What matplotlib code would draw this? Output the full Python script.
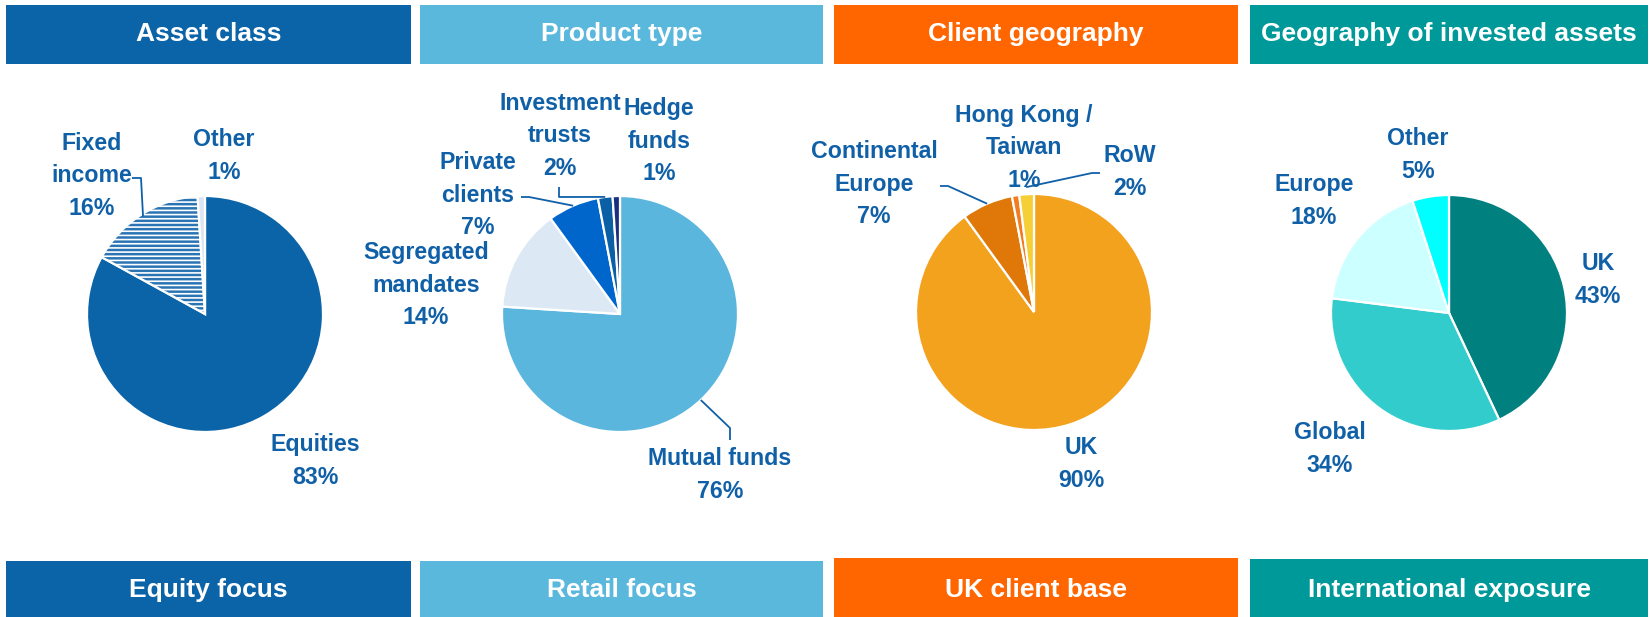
import numpy as np
import matplotlib
matplotlib.use("Agg")
import matplotlib.pyplot as plt
from matplotlib.patches import Rectangle

plt.rcParams['font.family'] = ['Liberation Sans', 'DejaVu Sans']
plt.rcParams['hatch.linewidth'] = 1.2

# ---------------- data ----------------
header_titles = ["Asset class", "Product type", "Client geography", "Geography of invested assets"]
footer_titles = ["Equity focus", "Retail focus", "UK client base", "International exposure"]
panel_colors = ["#0B64A8", "#5BB8DD", "#FF6600", "#009999"]

asset_labels = ["Equities", "Fixed\nincome", "Other"]
asset_values = [83, 16, 1]
asset_colors = ["#0B64A8", "#2A74B4", "#DCE6F2"]

product_labels = ["Mutual funds", "Segregated\nmandates", "Private\nclients", "Investment\ntrusts", "Hedge\nfunds"]
product_values = [76, 14, 7, 2, 1]
product_colors = ["#5BB6DD", "#DCE9F5", "#0066CC", "#0B5FA5", "#1B2F80"]

client_labels = ["UK", "Continental\nEurope", "Hong Kong /\nTaiwan", "RoW"]
client_values = [90, 7, 1, 2]
client_colors = ["#F3A21E", "#DF7808", "#F47C20", "#F5CF35"]

invest_labels = ["UK", "Global", "Europe", "Other"]
invest_values = [43, 34, 18, 5]
invest_colors = ["#00807F", "#33CCCC", "#CCFFFF", "#00FFFF"]

# ---------------- layout (pixel space) ----------------
W, H = 1652, 617
TXT = "#1060A8"
fig = plt.figure(figsize=(W / 100, H / 100), dpi=100)
ax = fig.add_axes([0, 0, 1, 1])

def Y(y):
    return H - y

header_x = [(6, 411), (420, 823), (834, 1238), (1250, 1648)]
header_y = (5, 64)
footer_y = [(561, 617), (561, 617), (558, 617), (559, 617)]

for i in range(4):
    x0, x1 = header_x[i]
    ax.add_patch(Rectangle((x0, Y(header_y[1])), x1 - x0, header_y[1] - header_y[0],
                           facecolor=panel_colors[i], edgecolor="none"))
    ax.text((x0 + x1) / 2, Y(34), header_titles[i], color="white", fontsize=19,
            fontweight="bold", ha="center", va="center")
    fy0, fy1 = footer_y[i]
    ax.add_patch(Rectangle((x0, Y(fy1)), x1 - x0, fy1 - fy0,
                           facecolor=panel_colors[i], edgecolor="none"))
    ax.text((x0 + x1) / 2, Y(590), footer_titles[i], color="white", fontsize=19,
            fontweight="bold", ha="center", va="center")

centers = [(205, 314), (620, 314), (1034, 312), (1449, 313)]
R = 118

pies = [
    (asset_values, asset_colors, asset_labels),
    (product_values, product_colors, product_labels),
    (client_values, client_colors, client_labels),
    (invest_values, invest_colors, invest_labels),
]

# label block centres (pixels)
label_pos = [
    [(315, 461), (92, 176), (224, 156)],
    [(720, 475), (426, 285), (478, 195), (560, 136), (659, 141)],
    [(1081, 464), (874, 184), (1024, 148), (1130, 172)],
    [(1598, 280), (1330, 449), (1314, 201), (1418, 155)],
]

all_wedges = []
for k, (vals, cols, labs) in enumerate(pies):
    cx, cy = centers[k]
    wedges, _ = ax.pie(vals, colors=cols, startangle=90, counterclock=False,
                       center=(cx, Y(cy)), radius=R,
                       wedgeprops=dict(edgecolor="white", linewidth=1.6))
    all_wedges.append(wedges)
    for j, lab in enumerate(labs):
        lx, ly = label_pos[k][j]
        ax.text(lx, Y(ly), f"{lab}\n{vals[j]}%", color=TXT, fontsize=16.7,
                fontweight="bold", ha="center", va="center", linespacing=1.55)

all_wedges[0][1].set_hatch("----")

def edge_point(w, scale=1.0):
    mid = np.deg2rad((w.theta1 + w.theta2) / 2)
    cx, cy = w.center
    return cx + w.r * scale * np.cos(mid), cy + w.r * scale * np.sin(mid)

# leader lines: (panel, wedge, label-side points, radial scale)
leaders = [
    (0, 1, [(132, 178), (141, 178)], 0.98),
    (1, 2, [(521, 197), (529, 197)], 1.0),
    (1, 3, [(559, 187), (559, 197)], 1.0),
    (1, 0, [(730, 440), (730, 428)], 1.0),
    (2, 1, [(940, 186), (948, 186)], 1.0),
    (2, 3, [(1100, 173), (1092, 173)], 1.06),
]
for k, j, pts, sc in leaders:
    ex, ey = edge_point(all_wedges[k][j], sc)
    xs = [p[0] for p in pts] + [ex]
    ys = [Y(p[1]) for p in pts] + [ey]
    ax.plot(xs, ys, color=TXT, lw=1.3, solid_capstyle="butt")

ax.set_xlim(0, W)
ax.set_ylim(0, H)
ax.set_aspect("equal")
ax.axis("off")
fig.savefig("out.png", dpi=100, facecolor="white")
